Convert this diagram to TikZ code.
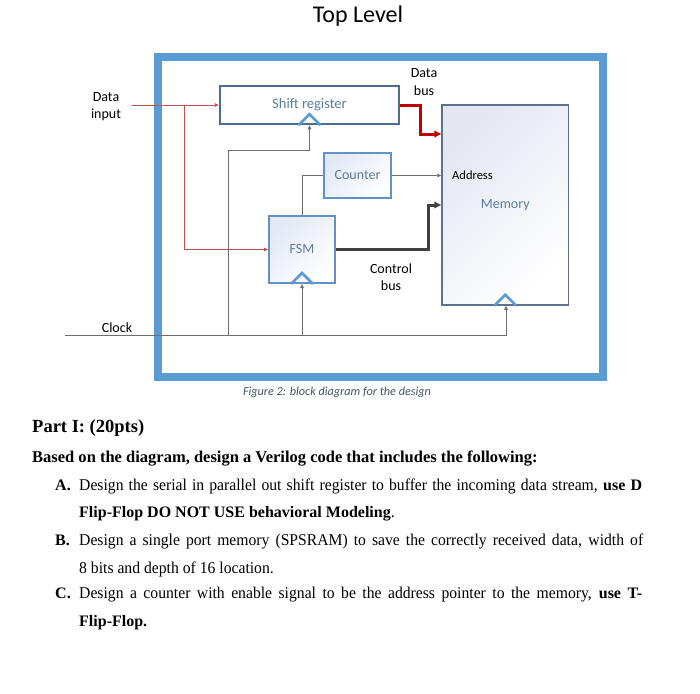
\documentclass[tikz,border=0pt]{standalone}
\usepackage{fontspec}
\setmainfont{Liberation Serif}
\newfontfamily\calibri{Carlito}
\newfontfamily\regfont[FakeStretch=0.95]{Liberation Serif}
\usetikzlibrary{arrows.meta}

\definecolor{framebl}{RGB}{91,155,213}
\definecolor{boxbl}{RGB}{96,146,200}
\definecolor{srbl}{RGB}{78,108,140}
\definecolor{membl}{RGB}{92,114,140}
\definecolor{boxtxt}{RGB}{92,124,162}
\definecolor{capt}{RGB}{68,84,106}
\definecolor{wirec}{RGB}{110,110,110}
\definecolor{redw}{RGB}{190,80,80}
\definecolor{busred}{RGB}{192,0,0}
\definecolor{busgr}{RGB}{64,64,64}
\definecolor{shadebl}{RGB}{226,232,245}
\definecolor{shadegr}{RGB}{228,231,242}

\newcommand\bt[1]{{\rmfamily\bfseries\fontsize{16}{19}\selectfont#1}}

\tikzset{
  lbl/.style={font=\calibri\fontsize{14}{17}\selectfont,align=center,inner sep=0pt},
  blk/.style={draw=boxbl,line width=2pt,font=\calibri\fontsize{14}{17}\selectfont,text=boxtxt,inner sep=0pt},
  shd/.style={top color=shadebl,bottom color=white,shading angle=45},
  wire/.style={draw=wirec,line width=0.8pt},
  tip/.style={-{Triangle[length=4pt,width=3.5pt]}},
  bigtip/.style={-{Triangle[length=7pt,width=6.5pt]}},
  clk/.style={draw=framebl,line width=2.5pt,line join=miter},
  txt/.style={anchor=base west,inner sep=0pt,font=\regfont\fontsize{16.5}{20}\selectfont}
}

\begin{document}
\begin{tikzpicture}[x=1pt,y=-1pt]
\useasboundingbox (0,0) rectangle (700,693);

\node[font=\calibri\fontsize{24}{28}\selectfont,anchor=base] (title) at (358,23) {Top Level};

% outer frame
\node[draw=framebl,line width=8pt,minimum width=444.5pt,minimum height=319.5pt,inner sep=0pt] (toplevel) at (380.25,216.75) {};

% blocks
\node[blk,draw=srbl,line width=2.5pt,fill=white,minimum width=179pt,minimum height=38pt,font=\calibri\fontsize{14.5}{17}\selectfont] (shiftreg) at (309.5,105) {Shift register};
\node[blk,shd,minimum width=67pt,minimum height=45pt] (counter) at (357.5,175.5) {Counter};
\node[blk,shd,minimum width=66pt,minimum height=67pt] (fsm) at (302,249.5) {FSM};
\node[blk,shd,top color=shadegr,draw=membl,line width=1.5pt,minimum width=126.5pt,minimum height=200pt,shading angle=45] (memory) at (505.25,205) {Memory};

% labels
\node[lbl] (datain) at (106,106.5) {Data\\input};
\node[lbl,anchor=base] (clock) at (117,332) {Clock};
\node[lbl] (databus) at (424,82.5) {Data\\[1pt]bus};
\node[lbl] (ctrlbus) at (391,277) {Control\\bus};
\node[lbl,font=\calibri\fontsize{12.5}{15}\selectfont,anchor=west] (addr) at (452,175.5) {Address};
\node[font=\calibri\itshape\fontsize{12.2}{14}\selectfont,text=capt] (caption) at (337,392) {Figure 2: block diagram for the design};

\coordinate (din) at (132,105);
\coordinate (dsplit) at (184,105);
\coordinate (clkin) at (65,335);
\coordinate (srtap) at (228,335);
\coordinate (dbx) at (420,134);
\coordinate (cbx) at (428,205);

% data input
\draw[draw=redw,line width=0.8pt,-{Triangle[length=4pt,width=3.5pt]}] (din) -- (shiftreg.west);
\draw[draw=redw,line width=0.8pt,-{Triangle[length=4pt,width=3.5pt]}] (dsplit) |- (fsm.west);

% clock
\draw[wire,tip] (clkin) -| ([xshift=0.75pt]memory.south);
\draw[wire,tip] (fsm.south |- clkin) -- (fsm.south);
\draw[wire,tip] (srtap) |- ([yshift=-25pt]shiftreg.south) -- (shiftreg.south);

% counter
\draw[wire] (counter.west) -| (fsm.north);
\draw[wire,tip] (counter.east) -- (counter.east -| memory.west);

% buses
\draw[draw=busred,line width=3pt,bigtip] (shiftreg.east) -| (dbx) -- (dbx -| memory.west);
\draw[draw=busgr,line width=3pt,bigtip] (fsm.east) -| (cbx) -- (cbx -| memory.west);

\foreach \b in {shiftreg,fsm,memory}
  \draw[clk] ([xshift=-11pt]\b.south) -- ([yshift=11pt]\b.south) -- ([xshift=11pt]\b.south);

% question text
\node[txt,font=\rmfamily\bfseries\fontsize{18.5}{21}\selectfont] (part) at (32,432) {Part I: (20pts)};
\node[txt,font=\rmfamily\bfseries\fontsize{16.5}{19}\selectfont] (intro) at (32,462) {Based on the diagram, design a Verilog code that includes the following:};
\foreach \n/\y in {A/490,B/545,C/598}
  \node[txt] (l\n) at (55,\y) {\bt{\n.}};
\node[txt] (a1) at (79,490) {\makebox[563pt][s]{Design the serial in parallel out shift register to buffer the incoming data stream, \bt{use D}}};
\node[txt] (a2) at (79,517) {\bt{Flip-Flop DO NOT USE behavioral Modeling}.};
\node[txt] (b1) at (79,545) {\makebox[564pt][s]{Design a single port memory (SPSRAM) to save the correctly received data, width of}};
\node[txt] (b2) at (79,573) {8 bits and depth of 16 location.};
\node[txt] (c1) at (79,598) {\makebox[563pt][s]{Design a counter with enable signal to be the address pointer to the memory, \bt{use T-}}};
\node[txt] (c2) at (79,626) {\bt{Flip-Flop.}};
\end{tikzpicture}
\end{document}
